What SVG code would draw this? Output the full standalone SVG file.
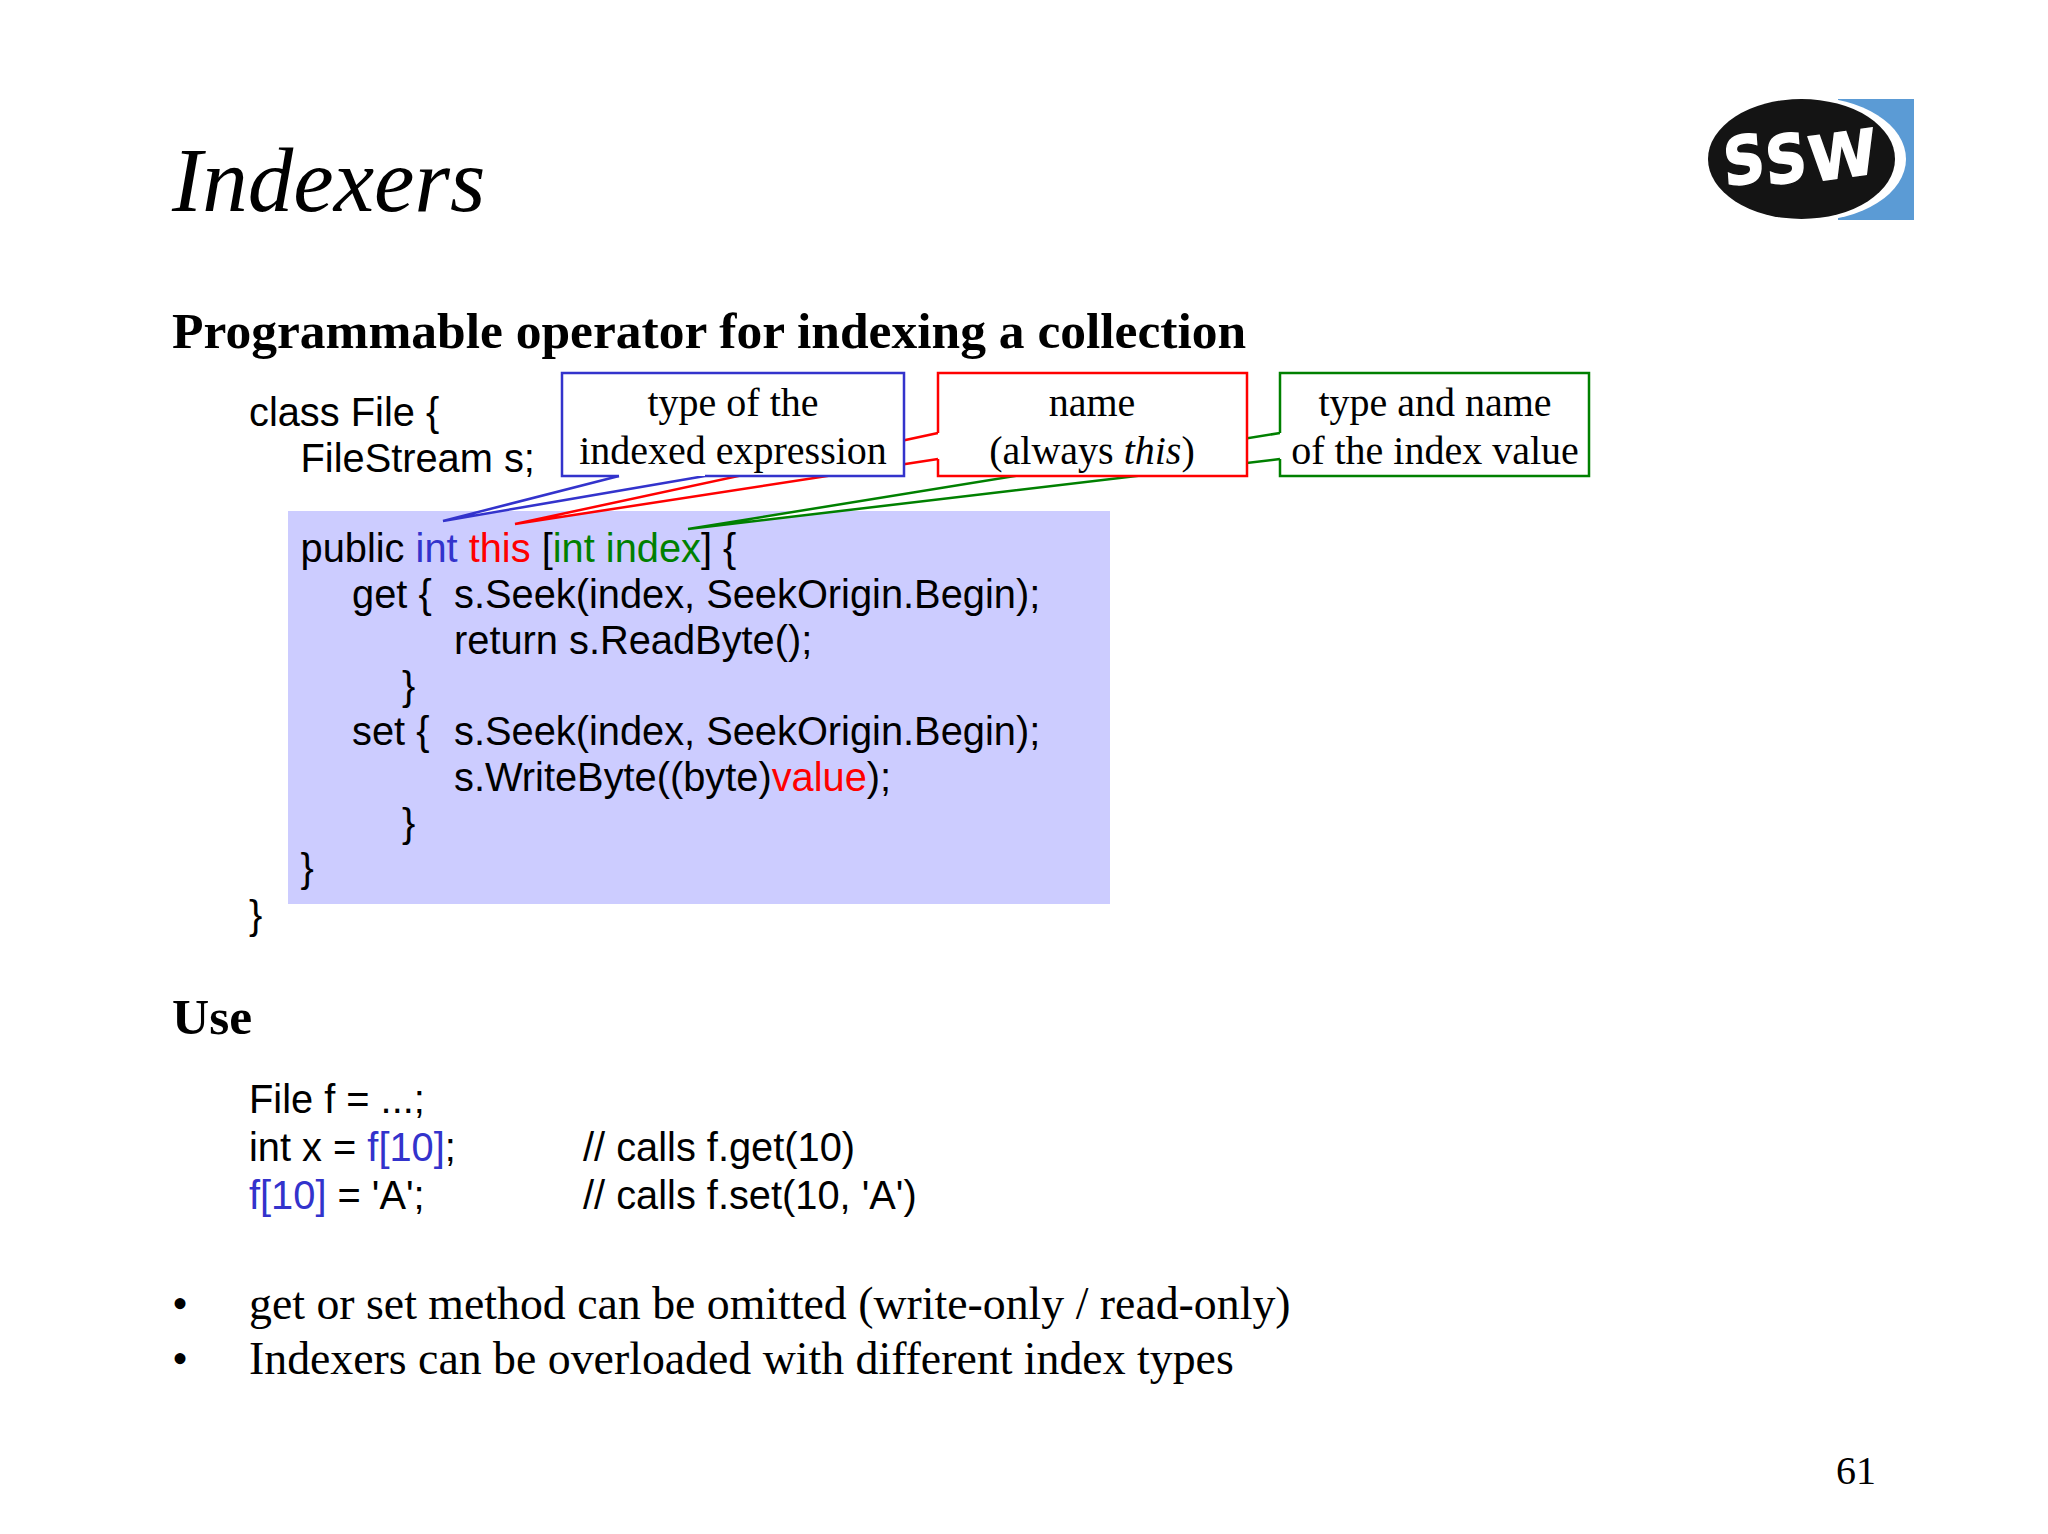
<svg xmlns="http://www.w3.org/2000/svg" width="2048" height="1534" viewBox="0 0 2048 1534">
<style>
.s{font-family:"Liberation Serif","Times New Roman",serif;fill:#000}
.c{font-family:"Liberation Sans",Arial,sans-serif;font-size:39.800px;fill:#000}
.h{font-size:51.500px;font-weight:bold}
.l{font-size:40px;text-anchor:middle}
.b{font-size:45.800px}
.blue{fill:#3333CC}.red{fill:#FF0000}.green{fill:#008000}
.fillw{fill:#fff}
.ln{fill:#fff;stroke-width:2.5}
.edge{fill:none;stroke-width:2.5}
.lg{font-family:"DejaVu Sans",sans-serif;font-weight:bold;fill:#fff;stroke:#fff;stroke-width:1.500}
</style>
<rect width="2048" height="1534" fill="#fff"/>
<g id="logo">
<rect x="1838" y="99" width="76" height="121" fill="#5B9BD5"/>
<ellipse cx="1809" cy="159" rx="97" ry="62" fill="#fff"/>
<ellipse cx="1801.500" cy="159" rx="93.500" ry="60" fill="#141414"/>
<text class="lg" transform="translate(1725 187) rotate(-10) skewX(-6) scale(0.88 1)" font-size="66">S</text>
<text class="lg" transform="translate(1767 186) rotate(-10) skewX(-6) scale(0.88 1)" font-size="66">S</text>
<text class="lg" transform="translate(1811 182) rotate(-8) skewX(-2) scale(1 1)" font-size="62">W</text>
</g>
<text id="title" class="s" x="172" y="211" font-size="91" font-style="italic">Indexers</text>
<text class="s h" x="172" y="348">Programmable operator for indexing a collection</text>
<g id="code-background"><rect x="288" y="511" width="822" height="393" fill="#CCCCFF"/></g>
<g id="connectors">
<path class="ln" stroke="#008000" d="M1280 433L688 529L1280 459"/>
<path class="ln" stroke="#FF0000" d="M938 433L515 524L938 459"/>
<path class="ln" stroke="#3333CC" d="M619 476L443 521L705 476"/>
</g>
<g id="node-type"><rect class="fillw" x="562" y="373" width="342" height="103"/>
<path class="edge" stroke="#3333CC" d="M619 476H562V373H904V476H705"/>
<text class="s l" x="733" y="416">type of the</text><text class="s l" x="733" y="464">indexed expression</text></g>
<g id="node-name"><rect class="fillw" x="938" y="373" width="309" height="103"/>
<path class="edge" stroke="#FF0000" d="M938 433V373H1247V476H938V459"/>
<text class="s l" x="1092" y="416">name</text><text class="s l" x="1092" y="464">(always <tspan font-style="italic">this</tspan>)</text></g>
<g id="node-index"><rect class="fillw" x="1280" y="373" width="309" height="103"/>
<path class="edge" stroke="#008000" d="M1280 433V373H1589V476H1280V459"/>
<text class="s l" x="1435" y="416">type and name</text><text class="s l" x="1435" y="464">of the index value</text></g>
<g id="code">
<text class="c" x="249" y="426">class File {</text>
<text class="c" x="300.500" y="472">FileStream s;</text>
<text class="c" x="300.500" y="562">public <tspan class="blue">int</tspan> <tspan class="red">this</tspan> [<tspan class="green">int index</tspan>] {</text>
<text class="c" x="352" y="608">get {</text><text class="c" x="454" y="608">s.Seek(index, SeekOrigin.Begin);</text>
<text class="c" x="454" y="654">return s.ReadByte();</text>
<text class="c" x="402" y="700">}</text>
<text class="c" x="352" y="745">set {</text><text class="c" x="454" y="745">s.Seek(index, SeekOrigin.Begin);</text>
<text class="c" x="454" y="791">s.WriteByte((byte)<tspan class="red">value</tspan>);</text>
<text class="c" x="402" y="837">}</text>
<text class="c" x="300.500" y="882">}</text>
<text class="c" x="249" y="929">}</text>
</g>
<text class="s h" x="172" y="1034">Use</text>
<g id="use">
<text class="c" x="249" y="1113">File f = ...;</text>
<text class="c" x="249" y="1161">int x = <tspan class="blue">f[10]</tspan>;</text>
<text class="c" x="583" y="1161">// calls f.get(10)</text>
<text class="c" x="249" y="1209"><tspan class="blue">f[10]</tspan> = 'A';</text>
<text class="c" x="583" y="1209">// calls f.set(10, 'A')</text>
</g>
<g id="bullets">
<text class="s b" x="172" y="1319">•</text><text class="s b" x="249" y="1319">get or set method can be omitted (write-only / read-only)</text>
<text class="s b" x="172" y="1374">•</text><text class="s b" x="249" y="1374">Indexers can be overloaded with different index types</text>
</g>
<text class="s" x="1836" y="1484" font-size="40">61</text>
</svg>
